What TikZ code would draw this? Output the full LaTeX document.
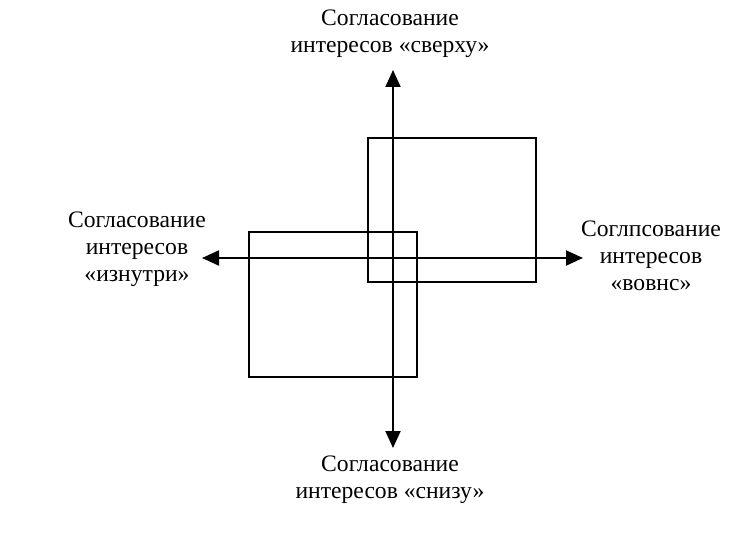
\documentclass[tikz,border=0pt]{standalone}
\usepackage{fontspec}
\setmainfont{Liberation Serif}
\usetikzlibrary{arrows.meta,positioning}

\begin{document}
\begin{tikzpicture}[
  x=1pt, y=-1pt,
  box/.style={rectangle, draw=black, line width=2pt, inner sep=0pt,
              minimum width=168pt, minimum height=144pt},
  lbl/.style={align=center, inner sep=0pt,
              font=\fontsize{23.6}{27}\selectfont},
  axis/.style={{Triangle[length=17pt,width=15pt]}-{Triangle[length=17pt,width=15pt]},
               line width=2pt, black}
]
\useasboundingbox (0,0) rectangle (746,534);

% Two overlapping frames
\node[box] (upper) at (452,210) {};
\node[box] (lower) at (333,304.5) {};

% Axis ends
\coordinate (ntip) at (393,70);
\coordinate (stip) at (393,448);
\coordinate (wtip) at (202,258);
\coordinate (etip) at (583,258);

% Labels
\node[lbl] (north) at (390,34)  {Согласование\\интересов «сверху»};
\node[lbl] (south) at (390,480) {Согласование\\интересов «снизу»};
\node[lbl] (west)  at (137,249) {Согласование\\интересов\\«изнутри»};
\node[lbl] (east)  at (651,256) {Соглпсование\\интересов\\«вовнс»};

% Axes
\draw[axis] (ntip) -- (stip);
\draw[axis] (wtip) -- (etip);

\end{tikzpicture}
\end{document}
